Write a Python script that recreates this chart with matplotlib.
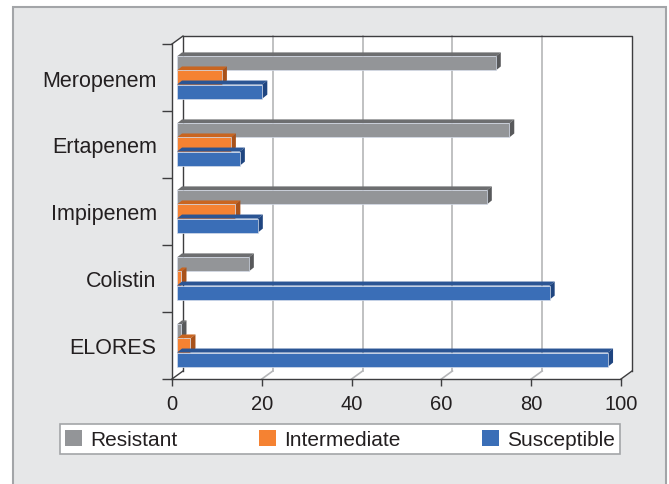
import matplotlib.pyplot as plt
from matplotlib.patches import Rectangle, Patch, Polygon

plt.rcParams['font.family'] = ['Liberation Sans', 'DejaVu Sans']

drugs = ["Meropenem", "Ertapenem", "Impipenem", "Colistin", "ELORES"]
resistant = [71, 74, 69, 16, 1]
intermediate = [10, 12, 13, 1, 3]
susceptible = [19, 14, 18, 83, 96]
xticks = [0, 20, 40, 60, 80, 100]

series = [
    ("Resistant", resistant, "#939598", "#6d6e70", "#58595b"),
    ("Intermediate", intermediate, "#f58232", "#c96520", "#a9521a"),
    ("Susceptible", susceptible, "#3a6eb7", "#2b5594", "#1f4580"),
]

W, H = 669, 485
fig = plt.figure(figsize=(W / 100, H / 100), dpi=100)
fig.patch.set_facecolor("white")
fig.add_artist(Rectangle((13 / W, -0.1), 653 / W, 1.1 - 8 / H, transform=fig.transFigure,
                         facecolor="#e6e7e8", edgecolor="#a3a5a8", lw=1.5, zorder=0))

# front plane of the 3d box
ax_l, ax_r, ax_t, ax_b = 172, 621, 45, 380
ax = fig.add_axes([ax_l / W, 1 - ax_b / H, (ax_r - ax_l) / W, (ax_b - ax_t) / H])
ax.set_facecolor("none")
ax.set_xlim(0, 100)
ax.set_ylim(len(drugs) - 0.5, -0.5)

# pixel -> data unit helpers
px_x = 100 / (ax_r - ax_l)
px_y = len(drugs) / (ax_b - ax_t)
wx, wy = 11 * px_x, 8 * px_y      # wall depth
bx, by = 5 * px_x, 4 * px_y       # bar depth
shift = 5 * px_x                  # bars sit at mid depth

y0, y1 = len(drugs) - 0.5, -0.5
# white walls / floor
ax.add_patch(Polygon([(0, y0), (0, y1), (wx, y1 - wy), (100 + wx, y1 - wy),
                      (100 + wx, y0 - wy), (100, y0)], closed=True,
                     facecolor="white", edgecolor="none", zorder=0, clip_on=False))

for v in xticks[1:-1]:
    ax.plot([v + wx, v + wx], [y0 - wy, y1 - wy], color="#b5b6b8", lw=1.2, zorder=1, clip_on=False)
    ax.plot([v, v + wx], [y0, y0 - wy], color="#b5b6b8", lw=1.2, zorder=1, clip_on=False)

dark = "#3d3d3f"
ax.plot([wx, wx, 100 + wx, 100 + wx], [y0 - wy, y1 - wy, y1 - wy, y0 - wy],
        color=dark, lw=1, zorder=1, clip_on=False)
ax.plot([0, wx], [y1, y1 - wy], color=dark, lw=1, clip_on=False)
ax.plot([0, wx], [y0, y0 - wy], color=dark, lw=1, clip_on=False)
ax.plot([100, 100 + wx], [y0, y0 - wy], color=dark, lw=1, clip_on=False)

# bars
h = 0.21
for i, (name, vals, c, ctop, cside) in reversed(list(enumerate(series))):
    for j, v in enumerate(vals):
        yc = j + (i - 1) * h
        top, bot = yc - h / 2, yc + h / 2
        l, r = shift, v + shift
        ax.add_patch(Polygon([(l, top), (l + bx, top - by), (r + bx, top - by), (r, top)],
                             closed=True, facecolor=ctop, edgecolor="none", zorder=3 + i))
        ax.add_patch(Polygon([(r, top), (r + bx, top - by), (r + bx, bot - by), (r, bot)],
                             closed=True, facecolor=cside, edgecolor="none", zorder=3 + i))
        ax.add_patch(Rectangle((l, top), v, h, facecolor=c, edgecolor="#d5dcea",
                               lw=0.5, zorder=3 + i))

for s in ["top", "right"]:
    ax.spines[s].set_visible(False)
for s in ["left", "bottom"]:
    ax.spines[s].set_color(dark)
    ax.spines[s].set_linewidth(1)

ax.set_xticks(xticks)
ax.set_xticklabels([str(t) for t in xticks], fontsize=14.5, color="#231f20")
ax.tick_params(axis="x", length=5, width=1, color=dark, pad=6)
ax.set_yticks([k - 0.5 for k in range(len(drugs) + 1)])
ax.set_yticklabels([])
ax.tick_params(axis="y", which="major", length=7, width=1, color=dark)
ax.set_yticks(range(len(drugs)), minor=True)
ax.set_yticklabels(drugs, minor=True, fontsize=15.5, color="#231f20")
ax.tick_params(axis="y", which="minor", length=0, pad=11)

handles = [Patch(facecolor=c, edgecolor="none", label=n) for n, _, c, _, _ in series]
leg = fig.legend(handles=handles, loc="lower left", ncol=3, mode="expand",
                 bbox_to_anchor=(60 / W, 1 - 455 / H, 560 / W, 31 / H),
                 fontsize=15, frameon=True, fancybox=False, framealpha=1,
                 edgecolor="#a3a5a8", handlelength=0.8, handleheight=0.8,
                 handletextpad=0.4, borderpad=0.25, borderaxespad=0)
leg.get_frame().set_linewidth(1.2)
for t in leg.get_texts():
    t.set_color("#231f20")

fig.savefig("out.png", dpi=100)
